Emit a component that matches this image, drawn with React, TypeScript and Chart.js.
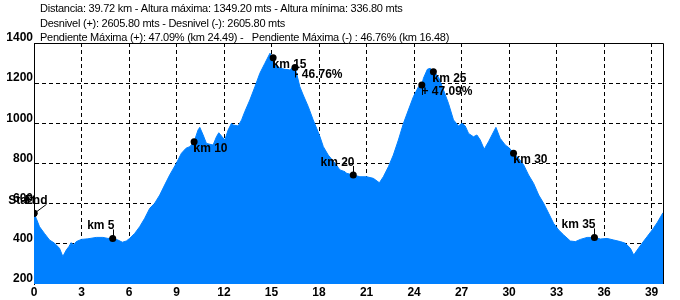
import React, { useEffect, useRef } from 'react';
import { Chart, registerables } from 'chart.js';

Chart.register(...registerables);

// Elevation profile (km, metres)
const profileKm = [
  0, 0.14, 0.35, 0.66, 0.98, 1.3, 1.61, 1.82, 2.04, 2.2, 2.35, 2.5, 2.67, 2.99, 3.4, 3.93, 4.35, 4.67, 4.97,
  5.3, 5.58, 5.83, 6.04, 6.36, 6.67, 6.99, 7.31, 7.62, 7.94, 8.25, 8.57, 8.99, 9.31, 9.6, 9.84, 10.11, 10.36,
  10.47, 10.68, 10.89, 11.31, 11.52, 11.67, 11.88, 12.05, 12.26, 12.47, 12.57, 12.89, 13.11, 13.31, 13.63,
  13.95, 14.26, 14.58, 14.9, 15.04, 15.21, 15.53, 15.85, 16.16, 16.37, 16.48, 16.58, 16.79, 17.0, 17.32,
  17.63, 17.85, 18.06, 18.27, 18.58, 19.01, 19.32, 19.64, 19.74, 20.16, 20.58, 21.01, 21.43, 21.81, 22.06,
  22.38, 22.69, 23.01, 23.33, 23.64, 23.96, 24.28, 24.49, 24.59, 24.84, 25.02, 25.22, 25.54, 25.86, 26.17,
  26.49, 26.81, 27.02, 27.23, 27.44, 27.75, 27.97, 28.18, 28.43, 28.7, 28.92, 29.17, 29.44, 29.76, 30.03,
  30.28, 30.6, 30.92, 31.23, 31.55, 31.87, 32.18, 32.5, 32.81, 33.13, 33.45, 33.87, 34.19, 34.5, 34.93,
  35.39, 35.77, 36.19, 36.61, 37.03, 37.34, 37.66, 37.87, 38.09, 38.4, 38.72, 39.04, 39.35, 39.72,
];
const profileElev = [
  552, 527, 485, 452, 419, 403, 378, 337, 369, 386, 406, 394, 411, 422, 425, 432, 432, 427, 427,
  419, 408, 414, 427, 452, 485, 527, 577, 602, 643, 693, 743, 801, 851, 876, 884, 908, 967,
  980, 942, 900, 892, 933, 953, 933, 917, 967, 1000, 992, 987, 1017, 1058, 1116,
  1182, 1249, 1299, 1349, 1332, 1299, 1274, 1269, 1266, 1282, 1278, 1249, 1182, 1141, 1083,
  1017, 975, 933, 884, 842, 801, 768, 759, 751, 743, 734, 734, 726, 704, 734,
  784, 842, 917, 1000, 1066, 1133, 1182, 1191, 1224, 1269, 1274, 1257, 1232, 1166, 1100,
  1017, 987, 1000, 987, 950, 933, 942, 917, 871, 908, 942, 980, 925, 892, 876,
  851, 826, 793, 743, 701, 643, 602, 552, 502, 469, 444, 414, 411, 422, 432,
  432, 424, 427, 419, 411, 403, 378, 344, 369, 403, 436, 469, 505, 555,
];

// Annotated markers
const markerLabels = ['Start', 'End', 'km 5', 'km 10', 'km 15', '- 46.76%', 'km 20', '+ 47.09%', 'km 25', 'km 30', 'km 35'];
const markerKm = [0, 0, 4.97, 10.11, 15.1, 16.48, 20.16, 24.49, 25.22, 30.28, 35.39];
const markerElev = [552, 552, 427, 908, 1327, 1278, 743, 1191, 1257, 851, 432];

// Axis ticks
const xTicks = [0, 3, 6, 9, 12, 15, 18, 21, 24, 27, 30, 33, 36, 39];
const yTicks = [200, 400, 600, 800, 1000, 1200, 1400];
const xMax = 39.72;

// Summary text
const headerLines = [
  'Distancia: 39.72 km - Altura máxima: 1349.20 mts - Altura mínima: 336.80 mts',
  'Desnivel (+): 2605.80 mts - Desnivel (-): 2605.80 mts',
  'Pendiente Máxima (+): 47.09% (km 24.49) -   Pendiente Máxima (-) : 46.76% (km 16.48)',
];

const FONT = '"Liberation Sans", Arial, sans-serif';

const aboveLeft = new Set(['Start', 'km 5', 'km 20', 'km 35']);

const annotPlugin = {
  id: 'annot',
  afterDraw(chart: any) {
    const ctx = chart.ctx as CanvasRenderingContext2D;
    const area = chart.chartArea;
    ctx.save();
    // frame top and right
    ctx.strokeStyle = '#000';
    ctx.lineWidth = 1;
    ctx.setLineDash([]);
    ctx.beginPath();
    ctx.moveTo(area.left, area.top + 0.5);
    ctx.lineTo(area.right + 0.5, area.top + 0.5);
    ctx.lineTo(area.right + 0.5, area.bottom);
    ctx.stroke();

    // header
    ctx.fillStyle = '#000';
    ctx.font = `11px ${FONT}`;
    (ctx as any).letterSpacing = '-0.25px';
    ctx.textAlign = 'left';
    ctx.textBaseline = 'alphabetic';
    headerLines.forEach((t, i) => ctx.fillText(t, 40, 12 + i * 14.5));
    (ctx as any).letterSpacing = '0px';

    // marker labels
    const meta = chart.getDatasetMeta(1);
    ctx.font = `bold 12px ${FONT}`;
    meta.data.forEach((el: any, i: number) => {
      const label = markerLabels[i];
      const x = Math.round(el.x) + 0.5;
      const y = el.y;
      ctx.beginPath();
      if (label === 'End') {
        ctx.moveTo(x, y);
        ctx.lineTo(x + 12, y - 9);
        ctx.stroke();
        ctx.textAlign = 'right';
        ctx.fillText(label, x + 13, y - 9);
      } else if (aboveLeft.has(label)) {
        ctx.moveTo(x, y);
        ctx.lineTo(x, y - 9);
        ctx.stroke();
        ctx.textAlign = 'right';
        ctx.fillText(label, x + 1, y - 9);
      } else {
        ctx.moveTo(x, y);
        ctx.lineTo(x, y + 10);
        ctx.stroke();
        ctx.textAlign = 'left';
        ctx.fillText(label, x - 1, y + 10);
      }
    });
    ctx.restore();
  },
};

export default function App() {
  const ref = useRef<HTMLCanvasElement>(null);
  useEffect(() => {
    if (!ref.current) return;
    const chart = new Chart(ref.current, {
      type: 'line',
      data: {
        datasets: [
          {
            data: profileKm.map((k, i) => ({ x: k, y: profileElev[i] })),
            borderColor: '#0080ff',
            backgroundColor: '#0080ff',
            borderWidth: 1,
            fill: 'start',
            pointRadius: 0,
            tension: 0,
            order: 2,
          },
          {
            type: 'scatter',
            data: markerKm.map((k, i) => ({ x: k, y: markerElev[i] })),
            backgroundColor: '#000',
            borderColor: '#000',
            pointRadius: 3.5,
            borderWidth: 0,
            order: 1,
          } as any,
        ],
      },
      options: {
        animation: false,
        responsive: false,
        devicePixelRatio: 1,
        layout: { padding: { left: 0, top: 43, right: 17, bottom: 0 } },
        plugins: { legend: { display: false }, tooltip: { enabled: false }, title: { display: false } },
        scales: {
          x: {
            type: 'linear',
            min: 0,
            max: xMax,
            z: 1,
            afterBuildTicks: (s: any) => {
              s.ticks = xTicks.map((v) => ({ value: v }));
            },
            afterFit: (s: any) => {
              s.height = 16;
            },
            grid: {
              color: (c: any) => (c.tick && c.tick.value === 0 ? 'rgba(0,0,0,0)' : '#000'),
              drawTicks: false,
              lineWidth: 1,
            },
            border: { display: false, dash: [4, 3] },
            ticks: {
              autoSkip: false,
              maxRotation: 0,
              padding: 1,
              color: '#000',
              callback: (v: any) => String(v),
              font: { family: FONT, size: 12, weight: 'bold' },
            },
          },
          y: {
            type: 'linear',
            min: 200,
            max: 1400,
            z: 1,
            afterBuildTicks: (s: any) => {
              s.ticks = yTicks.map((v) => ({ value: v }));
            },
            afterFit: (s: any) => {
              s.width = 34;
            },
            grid: {
              color: (c: any) =>
                c.tick && (c.tick.value === 200 || c.tick.value === 1400) ? 'rgba(0,0,0,0)' : '#000',
              drawTicks: false,
              lineWidth: 1,
            },
            border: { display: true, color: '#000', width: 1, dash: [4, 3] },
            ticks: {
              padding: 1,
              labelOffset: -5,
              color: '#000',
              callback: (v: any) => String(v),
              font: { family: FONT, size: 12, weight: 'bold' },
            },
          },
        },
      },
      plugins: [annotPlugin],
    } as any);
    return () => chart.destroy();
  }, []);
  return (
    <div style={{ position: 'absolute', left: 0, top: 0, width: 680, height: 300, background: '#fff' }}>
      <canvas ref={ref} width={680} height={300} style={{ width: 680, height: 300, display: 'block' }} />
    </div>
  );
}
